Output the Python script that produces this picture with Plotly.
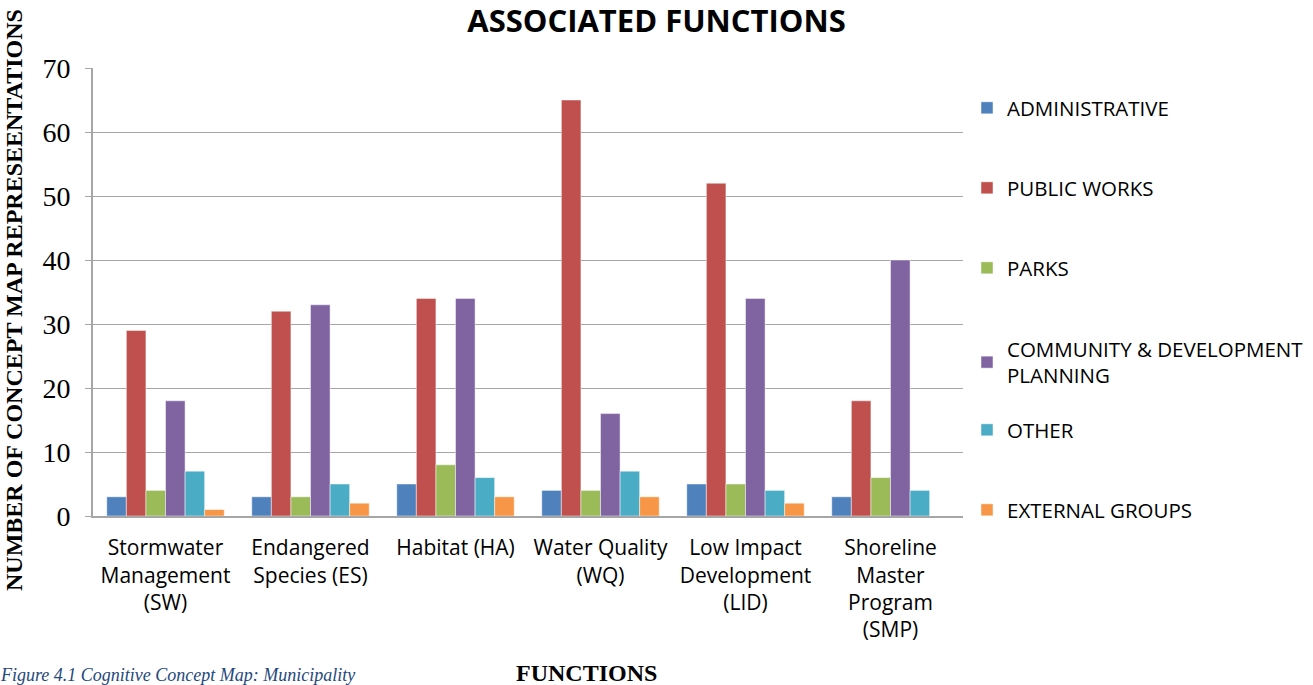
import plotly.graph_objects as go

categories = ["Stormwater<br>Management<br>(SW)", "Endangered<br>Species (ES)", "Habitat (HA)",
              "Water Quality<br>(WQ)", "Low Impact<br>Development<br>(LID)", "Shoreline<br>Master<br>Program<br>(SMP)"]
series_names = ["ADMINISTRATIVE", "PUBLIC WORKS", "PARKS", "COMMUNITY & DEVELOPMENT<br>PLANNING",
                "OTHER", "EXTERNAL GROUPS"]
administrative = [3, 3, 5, 4, 5, 3]
public_works = [29, 32, 34, 65, 52, 18]
parks = [4, 3, 8, 4, 5, 6]
community_dev = [18, 33, 34, 16, 34, 40]
other = [7, 5, 6, 7, 4, 4]
external_groups = [1, 2, 3, 3, 2, 0]
colors = ["#4F81BD", "#C0504D", "#9BBB59", "#8064A2", "#4BACC6", "#F79646"]

series_values = [administrative, public_works, parks, community_dev, other, external_groups]

W, H = 1313, 685
L, R, T, B = 93, 963, 68, 516
pw, ph = R - L, B - T
legend_centers = [108, 188, 268, 349, 430, 510]

fig = go.Figure()
legend_layouts = {}
for i, (name, vals) in enumerate(zip(series_names, series_values)):
    lname = "legend" if i == 0 else f"legend{i + 1}"
    fig.add_trace(go.Bar(
        x=categories, y=vals, name=name, legend=lname,
        marker=dict(color=colors[i], line=dict(color="rgba(255,255,255,0.6)", width=0.8)),
    ))
    legend_layouts[lname] = dict(
        xref="container", yref="container",
        x=967 / W, xanchor="left", y=1 - (legend_centers[i] - 20) / H, yanchor="top",
        font=dict(size=20.5, family="Open Sans, Liberation Sans, sans-serif", color="black"),
        itemwidth=30, bgcolor="rgba(0,0,0,0)")

fig.update_layout(
    width=W, height=H,
    paper_bgcolor="white", plot_bgcolor="white",
    margin=dict(l=L, r=W - R, t=T, b=H - B, autoexpand=False),
    barmode="group", bargap=0.19, bargroupgap=0,
    title=dict(text="<b>ASSOCIATED FUNCTIONS</b>", x=0.5, xanchor="center", y=1 - 21 / H, yanchor="middle",
               font=dict(family="Open Sans, Liberation Sans, sans-serif", size=31, color="black")),
    font=dict(family="Open Sans, Liberation Sans, sans-serif", color="black"),
    showlegend=True,
    **legend_layouts,
)
fig.update_yaxes(range=[0, 70], dtick=10, showgrid=True, gridcolor="#A6A6A6", gridwidth=1.2,
                 showline=True, linecolor="#A6A6A6", linewidth=2, ticks="outside", ticklen=6,
                 tickcolor="#A6A6A6", zeroline=False, ticklabelstandoff=9,
                 tickfont=dict(family="Liberation Serif, DejaVu Serif, serif", size=28, color="black"))
fig.update_xaxes(showline=True, linecolor="#A6A6A6", linewidth=2, ticks="", showgrid=False,
                 ticklabelstandoff=12,
                 tickfont=dict(family="Open Sans, Liberation Sans, sans-serif", size=21, color="black"))

fig.add_annotation(text="<b>NUMBER OF CONCEPT MAP REPRESEENTATIONS</b>", textangle=-90,
                   xref="paper", yref="paper", x=(-1 - L) / pw, xanchor="left", y=1 - (300 - T) / ph, yanchor="middle",
                   showarrow=False, font=dict(family="Liberation Serif, DejaVu Serif, serif", size=24, color="black"))
fig.add_annotation(text="<b>FUNCTIONS</b>", xref="paper", yref="paper",
                   x=(586 - L) / pw, y=-(673 - B) / ph, xanchor="center", yanchor="middle",
                   showarrow=False, font=dict(family="Liberation Serif, DejaVu Serif, serif", size=24, color="black"))
fig.add_annotation(text="<i>Figure 4.1 Cognitive Concept Map: Municipality</i>", xref="paper", yref="paper",
                   x=(-2 - L) / pw, y=-(675 - B) / ph, xanchor="left", yanchor="middle",
                   showarrow=False, font=dict(family="Liberation Serif, DejaVu Serif, serif", size=18, color="#1F497D"))

fig.write_html("out.html", config={"displayModeBar": False},
               post_script="document.body.style.margin='0px';")
